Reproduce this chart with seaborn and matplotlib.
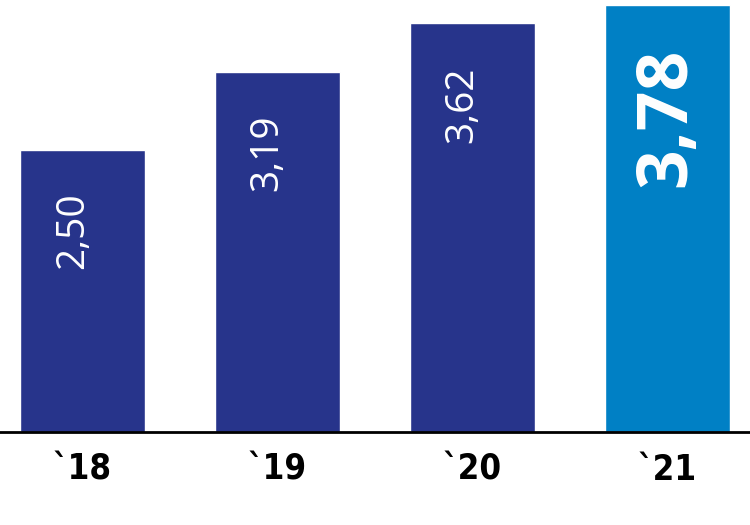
import matplotlib
matplotlib.use('Agg')
import matplotlib.pyplot as plt
import seaborn as sns

# Data
years = ['`18', '`19', '`20', '`21']
values = [2.50, 3.19, 3.62, 3.78]
value_labels = ['2,50', '3,19', '3,62', '3,78']
bar_colors = ['#27348b', '#27348b', '#27348b', '#0080c5']

sns.set_style('white')
plt.rcParams['font.family'] = ['DejaVu Sans']

fig = plt.figure(figsize=(7.5, 5.25), dpi=100)
ax = fig.add_axes([0, 93 / 525, 1, 432 / 525])

sns.barplot(x=years, y=values, hue=years, palette=bar_colors, legend=False,
            width=0.641, saturation=1, ax=ax)

ax.set_xlim(-0.423, 3.423)
ax.set_ylim(0, 3.826)

# value labels inside the bars
for i, (v, txt) in enumerate(zip(values, value_labels)):
    if i == len(values) - 1:
        ax.text(i, v - 0.38, txt, rotation=90, ha='center', va='top',
                color='white', fontsize=50, fontweight='bold',
                family=['Open Sans', 'DejaVu Sans'])
    else:
        ax.text(i - 0.05, v - 0.38, txt, rotation=90, ha='center', va='top',
                color='white', fontsize=28,
                family=['Open Sans', 'DejaVu Sans'])

for side in ['top', 'right', 'left']:
    ax.spines[side].set_visible(False)
ax.spines['bottom'].set_color('black')
ax.spines['bottom'].set_linewidth(2)
ax.set_yticks([])
ax.tick_params(axis='x', length=0, pad=15, colors='black')
for lbl in ax.get_xticklabels():
    lbl.set_fontsize(25)
    lbl.set_fontweight('bold')
    lbl.set_fontstretch('condensed')
    lbl.set_color('black')
ax.set_xlabel('')
ax.set_ylabel('')

fig.savefig('out.png', dpi=100)
